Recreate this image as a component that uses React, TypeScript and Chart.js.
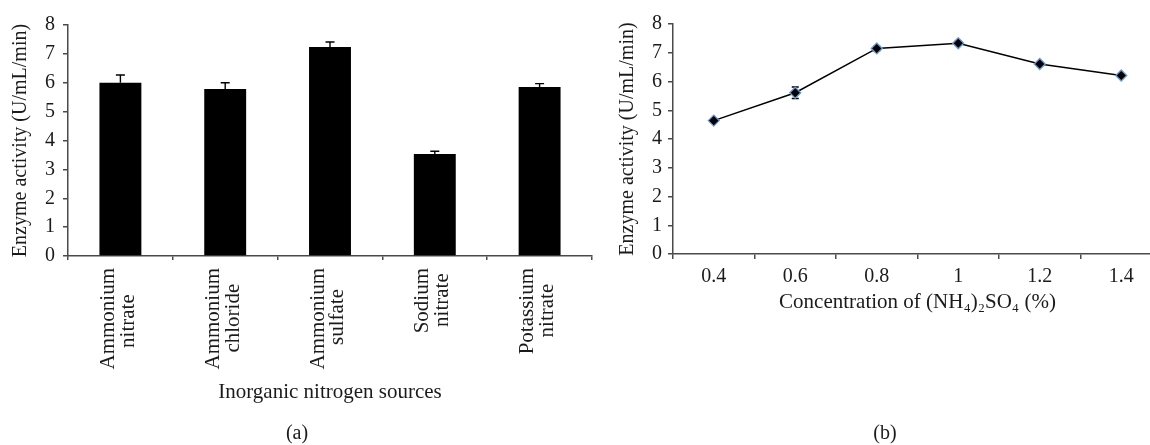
import React, { useEffect, useRef } from "react";
import { Chart, registerables } from "chart.js";

Chart.register(...registerables);

// ---- Data ----
const sourceCategories: string[][] = [
  ["Ammonium", "nitrate"],
  ["Ammonium", "chloride"],
  ["Ammonium", "sulfate"],
  ["Sodium", "nitrate"],
  ["Potassium", "nitrate"],
];
const sourceActivity: number[] = [6.0, 5.78, 7.24, 3.53, 5.85];
const sourceError: number[] = [0.27, 0.22, 0.17, 0.1, 0.12];

const concentrationLabels: string[] = ["0.4", "0.6", "0.8", "1", "1.2", "1.4"];
const concentrationActivity: number[] = [4.64, 5.61, 7.15, 7.33, 6.61, 6.21];
const concentrationError: number[] = [0.06, 0.2, 0.08, 0.07, 0.06, 0.05];

const yMin = 0;
const yMax = 8;
const yStep = 1;

const yTitle = "Enzyme activity (U/mL/min)";
const xTitleA = "Inorganic nitrogen sources";
const xTitleB = "Concentration of (NH\u2084)\u2082SO\u2084 (%)";
const panelA = "(a)";
const panelB = "(b)";

// ---- Styles ----
const FONT = "'Liberation Serif', 'Times New Roman', serif";
const TEXT = "#1c1a1b";
const AXIS = "#4a4a4a";

function errorBarPlugin(errors: number[], both: boolean, cap: number, hook: "before" | "after") {
  const draw = (chart: any) => {
    const meta = chart.getDatasetMeta(0);
    const ys = chart.scales.y;
    const data = chart.data.datasets[0].data as number[];
    const ctx = chart.ctx as CanvasRenderingContext2D;
    ctx.save();
    ctx.strokeStyle = "#000";
    ctx.lineWidth = 1.4;
    meta.data.forEach((el: any, i: number) => {
      const x = el.x;
      const v = data[i];
      const e = errors[i];
      const yTop = ys.getPixelForValue(v + e);
      const yBot = both ? ys.getPixelForValue(v - e) : ys.getPixelForValue(v);
      ctx.beginPath();
      ctx.moveTo(x, yBot);
      ctx.lineTo(x, yTop);
      ctx.moveTo(x - cap / 2, yTop);
      ctx.lineTo(x + cap / 2, yTop);
      if (both) {
        ctx.moveTo(x - cap / 2, yBot);
        ctx.lineTo(x + cap / 2, yBot);
      }
      ctx.stroke();
    });
    ctx.restore();
  };
  const p: any = { id: "errbars" };
  if (hook === "before") p.beforeDatasetsDraw = draw;
  else p.afterDatasetsDraw = draw;
  return p;
}

// centre the lines of a rotated multi-line label by padding shorter lines with trailing spaces
function centredLines(lines: string[], font: string): string[] {
  const c = document.createElement("canvas").getContext("2d");
  if (!c) return lines;
  c.font = font;
  const ws = lines.map((l) => c.measureText(l).width);
  const maxW = Math.max(...ws);
  const sp = c.measureText(" ").width || 5;
  return lines.map((l, i) => l + " ".repeat(Math.max(0, Math.round((maxW - ws[i]) / 2 / sp))));
}

export default function App() {
  const refA = useRef<HTMLCanvasElement>(null);
  const refB = useRef<HTMLCanvasElement>(null);

  useEffect(() => {
    if (!refA.current || !refB.current) return;
    const labelFont = `21px ${FONT}`;

    const chartA = new Chart(refA.current, {
      type: "bar",
      data: {
        labels: sourceCategories as any,
        datasets: [
          {
            data: sourceActivity,
            backgroundColor: "#000",
            borderWidth: 0,
            barPercentage: 0.4,
            categoryPercentage: 1,
          },
        ],
      },
      options: {
        responsive: false,
        animation: false,
        devicePixelRatio: 1,
        layout: { padding: { left: 0, right: 8, top: 25, bottom: 0 } },
        plugins: { legend: { display: false }, tooltip: { enabled: false } },
        scales: {
          x: {
            offset: true,
            grid: {
              offset: true,
              drawOnChartArea: false,
              drawTicks: true,
              tickLength: 4,
              color: AXIS,
              lineWidth: 1.5,
            },
            border: { display: true, color: AXIS, width: 1.5 },
            ticks: {
              autoSkip: false,
              minRotation: 90,
              maxRotation: 90,
              padding: 8,
              labelOffset: -12,
              color: TEXT,
              font: { family: FONT, size: 21, lineHeight: 0.95 },
              callback: (_v: any, i: number) => centredLines(sourceCategories[i], labelFont),
            },
            title: {
              display: true,
              text: xTitleA,
              color: TEXT,
              font: { family: FONT, size: 21 },
              padding: { top: 0, bottom: 40 },
            },
            afterFit: (s: any) => {
              s.height = 189;
            },
          } as any,
          y: {
            min: yMin,
            max: yMax,
            ticks: { stepSize: yStep, padding: 8, color: TEXT, font: { family: FONT, size: 20 } },
            grid: { drawOnChartArea: false, tickLength: 5, color: AXIS, lineWidth: 1.5 },
            border: { display: true, color: AXIS, width: 1.5 },
            title: {
              display: true,
              text: yTitle,
              color: TEXT,
              font: { family: FONT, size: 20 },
              padding: { top: 9, bottom: 0 },
            },
            afterFit: (s: any) => {
              s.width = 68;
            },
          } as any,
        },
      },
      plugins: [errorBarPlugin(sourceError, false, 9, "after")],
    });

    const chartB = new Chart(refB.current, {
      type: "line",
      data: {
        labels: concentrationLabels,
        datasets: [
          {
            data: concentrationActivity,
            borderColor: "#000",
            borderWidth: 1.5,
            tension: 0,
            pointStyle: "rectRot",
            pointRadius: 5.5,
            pointBackgroundColor: "#000",
            pointBorderColor: "#6a9bd8",
            pointBorderWidth: 1.3,
          },
        ],
      },
      options: {
        responsive: false,
        animation: false,
        devicePixelRatio: 1,
        layout: { padding: { left: 0, right: 18, top: 24, bottom: 0 } },
        plugins: { legend: { display: false }, tooltip: { enabled: false } },
        scales: {
          x: {
            offset: true,
            grid: {
              offset: true,
              drawOnChartArea: false,
              drawTicks: true,
              tickLength: 5,
              color: AXIS,
              lineWidth: 1.5,
            },
            border: { display: true, color: AXIS, width: 1.5 },
            ticks: {
              autoSkip: false,
              minRotation: 0,
              maxRotation: 0,
              padding: 6,
              color: TEXT,
              font: { family: FONT, size: 20 },
            },
            title: {
              display: true,
              text: xTitleB,
              color: TEXT,
              font: { family: FONT, size: 21 },
              padding: { top: 0, bottom: 130 },
            },
            afterFit: (s: any) => {
              s.height = 191;
            },
          } as any,
          y: {
            min: yMin,
            max: yMax,
            ticks: { stepSize: yStep, padding: 6, color: TEXT, font: { family: FONT, size: 20 } },
            grid: { drawOnChartArea: false, tickLength: 5, color: AXIS, lineWidth: 1.5 },
            border: { display: true, color: AXIS, width: 1.5 },
            title: {
              display: true,
              text: yTitle,
              color: TEXT,
              font: { family: FONT, size: 20 },
              padding: { top: 36, bottom: 0 },
            },
            afterFit: (s: any) => {
              s.width = 93;
            },
          } as any,
        },
      },
      plugins: [errorBarPlugin(concentrationError, true, 7, "before")],
    });

    return () => {
      chartA.destroy();
      chartB.destroy();
    };
  }, []);

  const panelLabel = (cx: number): React.CSSProperties => ({
    position: "absolute",
    left: cx - 50,
    width: 100,
    top: 420,
    lineHeight: "24px",
    fontSize: 20,
    fontFamily: FONT,
    color: TEXT,
    textAlign: "center",
  });

  return (
    <div
      style={{
        position: "fixed",
        left: 0,
        top: 0,
        width: 1150,
        height: 445,
        overflow: "hidden",
        background: "#fff",
      }}
    >
      <canvas ref={refA} width={600} height={445} style={{ position: "absolute", left: 0, top: 0 }} />
      <canvas ref={refB} width={600} height={445} style={{ position: "absolute", left: 580, top: 0 }} />
      <div style={panelLabel(297)}>{panelA}</div>
      <div style={panelLabel(885)}>{panelB}</div>
    </div>
  );
}
